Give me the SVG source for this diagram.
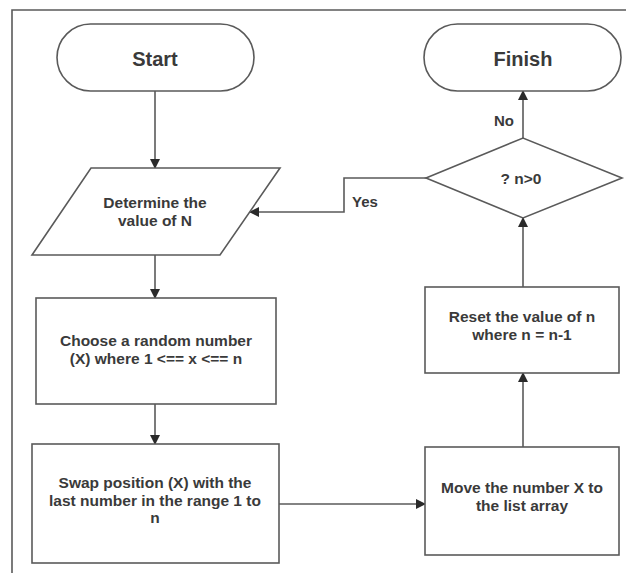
<svg xmlns="http://www.w3.org/2000/svg" width="626" height="573" viewBox="0 0 626 573">
<defs>
<style>
.shape{fill:#fff;stroke:#5a5a5a;stroke-width:1.6}
.line{fill:none;stroke:#5a5a5a;stroke-width:1.6}
.t{font-family:"Liberation Sans",Arial,sans-serif;font-weight:bold;fill:#3a3a3a;text-anchor:middle}
.big{font-size:20px}
.sm{font-size:15.5px}
.lbl{font-size:15px;text-anchor:start}
</style>
<marker id="ah" markerWidth="10" markerHeight="10" refX="9" refY="5" orient="auto" markerUnits="userSpaceOnUse">
<path d="M0,0 L10,5 L0,10 Z" fill="#2a2a2a"/>
</marker>
</defs>
<rect width="626" height="573" fill="#fff"/>
<g id="frame">
<path class="line" d="M12,573 V10 H626"/>
</g>
<g id="connectors">
<path class="line" d="M155,91 V168" marker-end="url(#ah)"/>
<path class="line" d="M155,255 V298" marker-end="url(#ah)"/>
<path class="line" d="M155,404 V444" marker-end="url(#ah)"/>
<path class="line" d="M279,504 H425" marker-end="url(#ah)"/>
<path class="line" d="M523,447 V373" marker-end="url(#ah)"/>
<path class="line" d="M523,287 V218" marker-end="url(#ah)"/>
<path class="line" d="M523,138 V91" marker-end="url(#ah)"/>
<path class="line" d="M426,178 H344 V212 H250" marker-end="url(#ah)"/>
<text class="t lbl" x="352" y="207">Yes</text>
<text class="t lbl" x="494" y="126">No</text>
</g>
<g id="start">
<rect class="shape" x="57" y="24" width="197" height="67" rx="33.5"/>
<text class="t big" x="155" y="66">Start</text>
</g>
<g id="determine">
<polygon class="shape" points="91,168 280,168 220,255 32,255"/>
<text class="t sm" x="155" y="208">Determine the</text>
<text class="t sm" x="155" y="226">value of N</text>
</g>
<g id="choose">
<rect class="shape" x="36" y="298" width="240" height="106"/>
<text class="t sm" x="156" y="346">Choose a random number</text>
<text class="t sm" x="156" y="364">(X) where 1 &lt;== x &lt;== n</text>
</g>
<g id="swap">
<rect class="shape" x="32" y="444" width="247" height="119"/>
<text class="t sm" x="155" y="488">Swap position (X) with the</text>
<text class="t sm" x="155" y="506">last number in the range 1 to</text>
<text class="t sm" x="155" y="523">n</text>
</g>
<g id="move">
<rect class="shape" x="425" y="447" width="194" height="108"/>
<text class="t sm" x="522" y="493">Move the number X to</text>
<text class="t sm" x="522" y="511">the list array</text>
</g>
<g id="reset">
<rect class="shape" x="425" y="287" width="194" height="86"/>
<text class="t sm" x="522" y="322">Reset the value of n</text>
<text class="t sm" x="522" y="340">where n = n-1</text>
</g>
<g id="decision">
<polygon class="shape" points="426,178 523,138 622,178 523,218"/>
<text class="t sm" x="521" y="184">? n&gt;0</text>
</g>
<g id="finish">
<rect class="shape" x="424" y="24" width="197" height="67" rx="33.5"/>
<text class="t big" x="523" y="66">Finish</text>
</g>
</svg>
